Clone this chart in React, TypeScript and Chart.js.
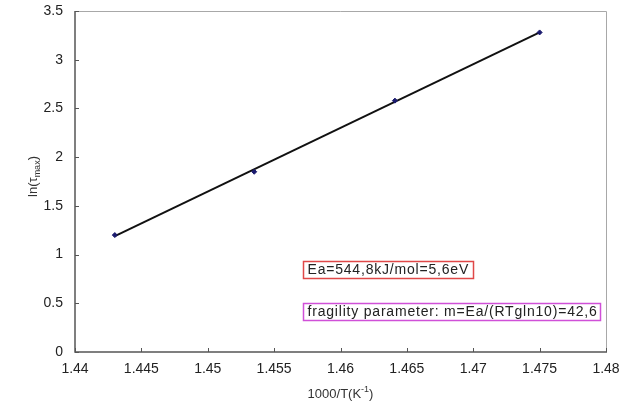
import React, { useEffect, useRef } from "react";
import { Chart, registerables } from "chart.js";

Chart.register(...registerables);

const xPoints = [1.443, 1.4535, 1.4641, 1.475];
const yPoints = [1.2, 1.85, 2.58, 3.28];
const fitX = [1.443, 1.475];
const fitY = [1.19, 3.28];
const xTickValues = [1.44, 1.445, 1.45, 1.455, 1.46, 1.465, 1.47, 1.475, 1.48];
const xTickLabels = ["1.44", "1.445", "1.45", "1.455", "1.46", "1.465", "1.47", "1.475", "1.48"];
const yTickValues = [0, 0.5, 1, 1.5, 2, 2.5, 3, 3.5];
const yTickLabels = ["0", "0.5", "1", "1.5", "2", "2.5", "3", "3.5"];
const eaText = "Ea=544,8kJ/mol=5,6eV";
const fragilityText = "fragility parameter: m=Ea/(RTgln10)=42,6";

const FONT = "'Liberation Sans', Arial, sans-serif";
const L = 75, R = 606, T = 11, B = 352, W = 639, H = 407;

const decorPlugin = {
  id: "decor",
  beforeDraw(chart: any) {
    const ctx = chart.ctx;
    ctx.save();
    ctx.fillStyle = "#ffffff";
    ctx.fillRect(0, 0, chart.width, chart.height);
    ctx.restore();
  },
  afterDraw(chart: any) {
    const ctx = chart.ctx;
    const a = chart.chartArea;
    const xs = chart.scales.x;
    const ys = chart.scales.y;
    ctx.save();
    ctx.lineWidth = 1;
    ctx.strokeStyle = "#a8a8a8";
    ctx.beginPath();
    ctx.moveTo(a.left, a.top + 0.5);
    ctx.lineTo(a.right + 0.5, a.top + 0.5);
    ctx.lineTo(a.right + 0.5, a.bottom);
    ctx.stroke();
    ctx.strokeStyle = "#555555";
    ctx.lineWidth = 1.5;
    ctx.beginPath();
    ctx.moveTo(a.left, a.top);
    ctx.lineTo(a.left, a.bottom);
    ctx.lineTo(a.right + 1, a.bottom);
    ctx.stroke();
    ctx.lineWidth = 1;
    ctx.strokeStyle = "#555555";
    ctx.beginPath();
    xTickValues.forEach((v) => {
      const px = Math.round(xs.getPixelForValue(v)) + 0.5;
      ctx.moveTo(px, a.bottom);
      ctx.lineTo(px, a.bottom - 4);
    });
    yTickValues.forEach((v) => {
      const py = Math.round(ys.getPixelForValue(v)) + 0.5;
      ctx.moveTo(a.left, py);
      ctx.lineTo(a.left + 4, py);
    });
    ctx.stroke();

    const drawBox = (text: string, x: number, y: number, w: number, h: number, color: string) => {
      ctx.save();
      ctx.fillStyle = "#ffffff";
      ctx.fillRect(x, y, w, h);
      ctx.strokeStyle = color;
      ctx.lineWidth = 1.5;
      ctx.strokeRect(x, y, w, h);
      ctx.fillStyle = "#222222";
      ctx.font = `14px ${FONT}`;
      (ctx as any).letterSpacing = "0.8px";
      ctx.textAlign = "left";
      ctx.textBaseline = "middle";
      ctx.fillText(text, x + 4, y + h / 2 + 0.5);
      ctx.restore();
    };
    drawBox(eaText, 303.5, 261.5, 170, 17, "#e04848");
    drawBox(fragilityText, 303.5, 303.5, 297, 17, "#d050d8");

    ctx.fillStyle = "#333333";
    ctx.textBaseline = "alphabetic";
    const main = `13px ${FONT}`;
    const small = `9px ${FONT}`;
    const parts: [string, string, number][] = [
      ["1000/T(K", main, 0],
      ["-1", small, -6],
      [")", main, 0],
    ];
    let total = 0;
    parts.forEach(([t, f]) => { ctx.font = f; total += ctx.measureText(t).width; });
    let cx = (a.left + a.right) / 2 - total / 2;
    parts.forEach(([t, f, dy]) => {
      ctx.font = f;
      ctx.fillText(t, cx, 398 + dy);
      cx += ctx.measureText(t).width;
    });
    ctx.save();
    ctx.translate(37, (a.top + a.bottom) / 2 - 5);
    ctx.rotate(-Math.PI / 2);
    const yparts: [string, string, number][] = [
      ["ln(τ", main, 0],
      ["max", small, 3],
      [")", main, 0],
    ];
    let ytotal = 0;
    yparts.forEach(([t, f]) => { ctx.font = f; ytotal += ctx.measureText(t).width; });
    let yx = -ytotal / 2;
    yparts.forEach(([t, f, dy]) => {
      ctx.font = f;
      ctx.fillText(t, yx, dy);
      yx += ctx.measureText(t).width;
    });
    ctx.restore();
    ctx.restore();
  },
};

export default function App() {
  const ref = useRef<HTMLCanvasElement | null>(null);
  useEffect(() => {
    if (!ref.current) return;
    const chart = new Chart(ref.current, {
      type: "scatter",
      data: {
        datasets: [
          {
            label: "fit",
            data: fitX.map((x, i) => ({ x, y: fitY[i] })),
            showLine: true,
            borderColor: "#111111",
            borderWidth: 2,
            pointRadius: 0,
            order: 2,
          },
          {
            label: "data",
            data: xPoints.map((x, i) => ({ x, y: yPoints[i] })),
            pointStyle: "rectRot",
            pointRadius: 2.5,
            backgroundColor: "#1a1a6e",
            borderColor: "#1a1a6e",
            borderWidth: 1,
            order: 1,
          },
        ],
      },
      options: {
        animation: false,
        responsive: false,
        devicePixelRatio: 1,
        layout: { padding: { left: 0, right: W - R, top: T, bottom: 0 } },
        plugins: { legend: { display: false }, tooltip: { enabled: false } },
        scales: {
          x: {
            type: "linear",
            min: 1.44,
            max: 1.48,
            border: { display: false },
            grid: { display: false, drawTicks: false },
            afterBuildTicks: (s: any) => { s.ticks = xTickValues.map((v) => ({ value: v })); },
            afterFit: (s: any) => {
              s.height = H - B;
              s.paddingLeft = 0;
              s.paddingRight = 0;
            },
            ticks: {
              padding: 9,
              color: "#222222",
              font: { family: FONT, size: 14 },
              maxRotation: 0,
              autoSkip: false,
              callback: (v: any) => {
                const i = xTickValues.findIndex((t) => Math.abs(t - v) < 1e-9);
                return i >= 0 ? xTickLabels[i] : "";
              },
            },
          },
          y: {
            type: "linear",
            min: 0,
            max: 3.5,
            border: { display: false },
            grid: { display: false, drawTicks: false },
            afterBuildTicks: (s: any) => { s.ticks = yTickValues.map((v) => ({ value: v })); },
            afterFit: (s: any) => {
              s.width = L;
              s.paddingTop = 0;
              s.paddingBottom = 0;
            },
            ticks: {
              padding: 12,
              color: "#222222",
              font: { family: FONT, size: 14 },
              autoSkip: false,
              callback: (v: any) => {
                const i = yTickValues.findIndex((t) => Math.abs(t - v) < 1e-9);
                return i >= 0 ? yTickLabels[i] : "";
              },
            },
          },
        },
      },
      plugins: [decorPlugin],
    } as any);
    return () => chart.destroy();
  }, []);
  return (
    <div style={{ position: "fixed", left: 0, top: 0, width: W, height: H, background: "#fff" }}>
      <canvas ref={ref} width={W} height={H} style={{ width: W, height: H, display: "block" }} />
    </div>
  );
}
